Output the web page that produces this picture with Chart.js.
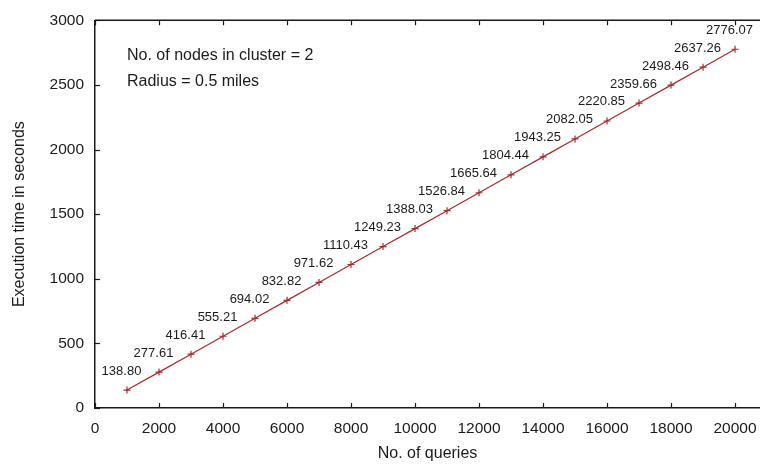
<!DOCTYPE html>
<html>
<head>
<meta charset="utf-8">
<script src="https://cdn.jsdelivr.net/npm/chart.js@4.4.1/dist/chart.umd.min.js"></script>
<style>
  html, body { margin: 0; padding: 0; background: #fff; }
  #wrap { width: 760px; height: 468px; position: relative; }
</style>
</head>
<body>
<div id="wrap"><canvas id="c"></canvas></div>
<script>
// data
const queries = [1000, 2000, 3000, 4000, 5000, 6000, 7000, 8000, 9000, 10000,
  11000, 12000, 13000, 14000, 15000, 16000, 17000, 18000, 19000, 20000];
const execTime = [138.80, 277.61, 416.41, 555.21, 694.02, 832.82, 971.62, 1110.43, 1249.23, 1388.03,
  1526.84, 1665.64, 1804.44, 1943.25, 2082.05, 2220.85, 2359.66, 2498.46, 2637.26, 2776.07];
const xTicks = [0, 2000, 4000, 6000, 8000, 10000, 12000, 14000, 16000, 18000, 20000];
const yTicks = [0, 500, 1000, 1500, 2000, 2500, 3000];
const notes = ["No. of nodes in cluster = 2", "Radius = 0.5 miles"];

const FONT = '"Liberation Sans", Arial, Helvetica, sans-serif';
const INK = "#1a1a1a";
const LINE = "#a52a2a";

// gnuplot-like inward ticks + top border
const frame = {
  id: "frame",
  afterDraw(chart) {
    const { ctx, chartArea: a, scales: { x, y } } = chart;
    ctx.save();
    ctx.strokeStyle = INK; ctx.lineWidth = 1.5;
    ctx.beginPath(); ctx.moveTo(a.left, a.top); ctx.lineTo(a.right, a.top); ctx.stroke();
    ctx.lineWidth = 1.2;
    x.ticks.forEach(function (t) {
      const px = Math.round(x.getPixelForValue(t.value)) + 0.5;
      ctx.beginPath(); ctx.moveTo(px, a.bottom); ctx.lineTo(px, a.bottom - 5); ctx.stroke();
      ctx.beginPath(); ctx.moveTo(px, a.top); ctx.lineTo(px, a.top + 5); ctx.stroke();
    });
    y.ticks.forEach(function (t) {
      const py = Math.round(y.getPixelForValue(t.value)) + 0.5;
      ctx.beginPath(); ctx.moveTo(a.left, py); ctx.lineTo(a.left + 5, py); ctx.stroke();
    });
    // value labels
    ctx.fillStyle = INK; ctx.font = "13px " + FONT;
    ctx.textAlign = "center"; ctx.textBaseline = "alphabetic";
    execTime.forEach(function (v, i) {
      ctx.fillText(v.toFixed(2), x.getPixelForValue(queries[i]) - 5.5, y.getPixelForValue(v) - 15.5);
    });
    // notes
    ctx.font = "16px " + FONT; ctx.textAlign = "left"; ctx.textBaseline = "middle";
    ctx.fillText(notes[0], 127, 56);
    ctx.fillText(notes[1], 127, 82);
    ctx.restore();
  }
};

function setTicks(list) {
  return function (s) { s.ticks = list.map(function (v) { return { value: v }; }); };
}

new Chart(document.getElementById("c"), {
  type: "line",
  data: {
    datasets: [{
      data: queries.map(function (q, i) { return { x: q, y: execTime[i] }; }),
      borderColor: LINE, borderWidth: 1.2,
      pointStyle: "cross", pointRadius: 3.5, pointBorderWidth: 1.2,
      pointBorderColor: LINE, pointBackgroundColor: LINE,
      tension: 0, fill: false,
    }]
  },
  options: {
    responsive: true, maintainAspectRatio: false, animation: false,
    layout: { autoPadding: false, padding: { top: 18, right: 0, left: 0, bottom: 0 } },
    plugins: { legend: { display: false }, tooltip: { enabled: false } },
    scales: {
      x: {
        type: "linear", min: 0, max: 20780,
        afterBuildTicks: setTicks(xTicks),
        afterFit: function (s) { s.height = 60; s.paddingRight = 0; s.paddingLeft = 0; },
        grid: { display: false, drawTicks: false },
        border: { display: true, color: INK, width: 1.5 },
        ticks: { padding: 11, color: INK, font: { family: FONT, size: 15.5 }, maxRotation: 0, autoSkip: false,
          callback: function (v) { return String(v); } },
        title: { display: true, text: "No. of queries", color: INK, font: { family: FONT, size: 16 }, padding: { top: 0, bottom: 5 } },
      },
      y: {
        min: 0, max: 3000,
        afterBuildTicks: setTicks(yTicks),
        afterFit: function (s) { s.width = 95; },
        grid: { display: false, drawTicks: false },
        border: { display: true, color: INK, width: 1.5 },
        ticks: { padding: 11, color: INK, font: { family: FONT, size: 15.5 }, autoSkip: false,
          callback: function (v) { return String(v); } },
        title: { display: true, text: "Execution time in seconds", color: INK, font: { family: FONT, size: 16 }, padding: { top: 10, bottom: 0 } },
      }
    }
  },
  plugins: [frame]
});
</script>
</body>
</html>
